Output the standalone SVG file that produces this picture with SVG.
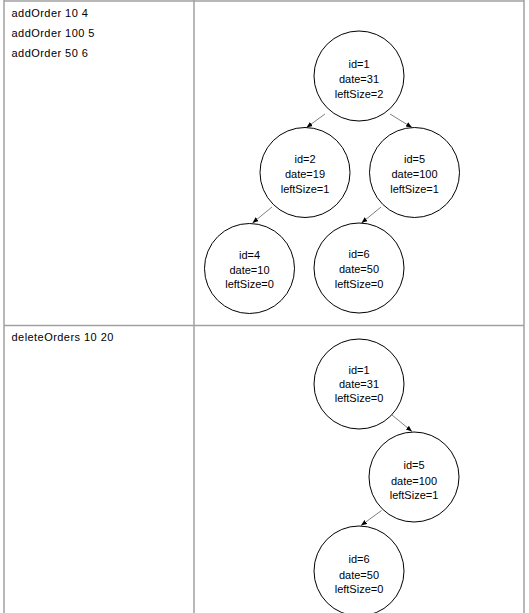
<svg xmlns="http://www.w3.org/2000/svg" width="529" height="613" viewBox="0 0 529 613">
<style>
.grid{stroke:#a0a0a0;stroke-width:1.5;fill:none}
.node circle{fill:#ffffff;stroke:#000000;stroke-width:1}
.node text{font-family:"Liberation Sans",Arial,sans-serif;font-size:11px;fill:#000000;text-anchor:middle}
.cmd{font-family:"Liberation Sans",Arial,sans-serif;font-size:11px;fill:#000000;letter-spacing:0.45px}
.edge{stroke:#555555;stroke-width:0.75;fill:none;marker-end:url(#arr)}
</style>
<defs>
<marker id="arr" markerUnits="userSpaceOnUse" markerWidth="8" markerHeight="8" refX="6" refY="3" orient="auto">
<path d="M0,0.6 L6,3 L0,5.4 Z" fill="#000000"/>
</marker>
</defs>
<rect width="529" height="613" fill="#ffffff"/>
<g id="table">
<line class="grid" x1="4" y1="1" x2="524" y2="1"/>
<line class="grid" x1="4" y1="0" x2="4" y2="613"/>
<line class="grid" x1="194" y1="0" x2="194" y2="613"/>
<line class="grid" x1="524" y1="0" x2="524" y2="613"/>
<line class="grid" x1="4" y1="325.5" x2="524" y2="325.5"/>
</g>
<g id="commands">
<text class="cmd" x="11.5" y="17.3">addOrder 10 4</text>
<text class="cmd" x="11.5" y="37.3">addOrder 100 5</text>
<text class="cmd" x="11.5" y="57.3">addOrder 50 6</text>
<text class="cmd" x="11.5" y="340.7">deleteOrders 10 20</text>
</g>
<g id="connectors">
<line class="edge" x1="325" y1="114" x2="306.5" y2="127.5"/>
<line class="edge" x1="390" y1="114" x2="412" y2="127.5"/>
<line class="edge" x1="272" y1="207" x2="252.5" y2="223"/>
<line class="edge" x1="381" y1="207" x2="361.5" y2="223"/>
<line class="edge" x1="392" y1="415" x2="412" y2="431.5"/>
<line class="edge" x1="381.5" y1="510.5" x2="361" y2="525.5"/>
</g>
<g id="a1" class="node">
<circle cx="359" cy="76" r="45"/>
<text x="359" y="68">id=1</text>
<text x="359" y="83">date=31</text>
<text x="359" y="97.5">leftSize=2</text>
</g>
<g id="a2" class="node">
<circle cx="305" cy="172.5" r="45"/>
<text x="305" y="163">id=2</text>
<text x="305" y="178">date=19</text>
<text x="305" y="192.5">leftSize=1</text>
</g>
<g id="a5" class="node">
<circle cx="414.5" cy="172.5" r="45"/>
<text x="414.5" y="163">id=5</text>
<text x="414.5" y="178">date=100</text>
<text x="414.5" y="192.5">leftSize=1</text>
</g>
<g id="a4" class="node">
<circle cx="249.5" cy="268.5" r="45"/>
<text x="249.5" y="258.5">id=4</text>
<text x="249.5" y="273.5">date=10</text>
<text x="249.5" y="288">leftSize=0</text>
</g>
<g id="a6" class="node">
<circle cx="359" cy="268" r="45"/>
<text x="359" y="258">id=6</text>
<text x="359" y="273">date=50</text>
<text x="359" y="287.5">leftSize=0</text>
</g>
<g id="b1" class="node">
<circle cx="359" cy="384" r="45"/>
<text x="359" y="373.5">id=1</text>
<text x="359" y="388.3">date=31</text>
<text x="359" y="402">leftSize=0</text>
</g>
<g id="b5" class="node">
<circle cx="414" cy="477" r="45"/>
<text x="414" y="469">id=5</text>
<text x="414" y="484.5">date=100</text>
<text x="414" y="499">leftSize=1</text>
</g>
<g id="b6" class="node">
<circle cx="359" cy="571" r="45"/>
<text x="359" y="562.7">id=6</text>
<text x="359" y="578.5">date=50</text>
<text x="359" y="593">leftSize=0</text>
</g>
</svg>
